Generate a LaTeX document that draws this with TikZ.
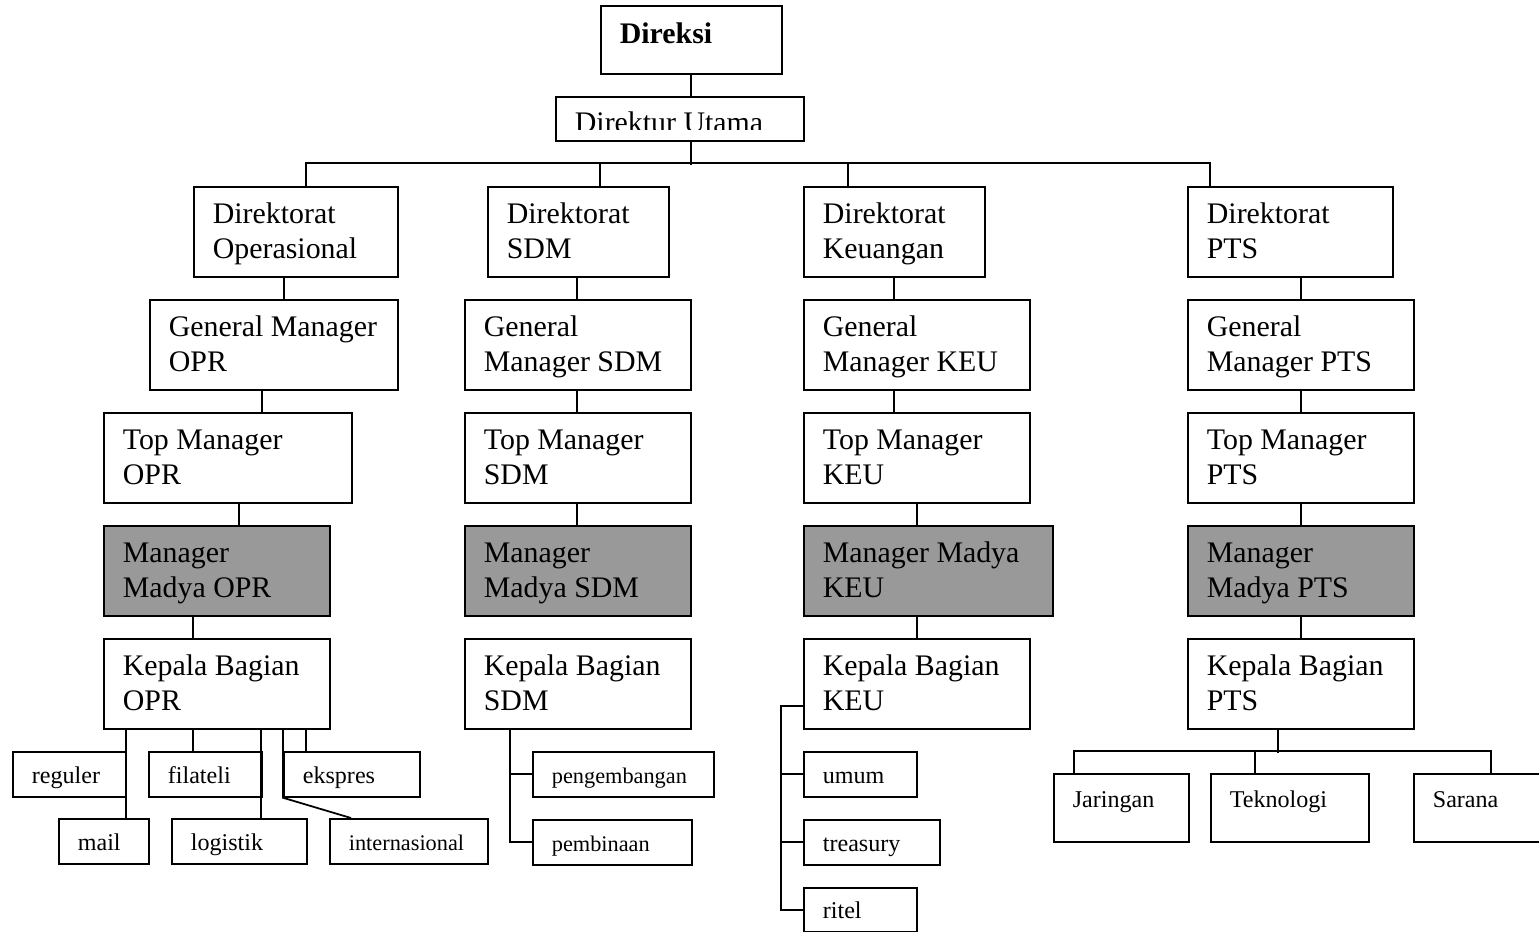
\documentclass[tikz,border=0pt]{standalone}
\usepackage{fontspec}
\setmainfont{Liberation Serif}
\newcommand\besar{\fontsize{17}{19.9}\selectfont}
\newcommand\kecil{\fontsize{13.7}{16}\selectfont}
\newcommand\kecilan{\fontsize{12.7}{15}\selectfont}

\begin{document}
\begin{tikzpicture}[x=0.02cm, y=-0.02cm, line width=1pt,
            k/.style={draw, anchor=north west, align=flush left, inner xsep=0.38cm, inner ysep=0pt,
            text height=0.74cm, text depth=1.06cm, font=\besar},
            ka/.style={k, fill=black!40},
            kc/.style={draw, anchor=north west, align=flush left, inner xsep=0.38cm, inner ysep=0pt,
            text height=0.64cm, text depth=0.26cm, font=\kecil},
            kt/.style={kc, text height=0.68cm, text depth=0.68cm}]
            \useasboundingbox (0,0) rectangle (1539,932);

            \node[k, font=\besar\bfseries, text width=2.86cm,
            text height=0.76cm, text depth=0.6cm] (dir) at (600,5) {Direksi};
            \node[draw, anchor=north west, minimum width=4.96cm, minimum height=0.88cm,
            inner sep=0pt] (du) at (555,96) {};
            \begin{scope}
                \clip (du.north west) rectangle (du.east |- 0,130);
                \node[anchor=base west, inner sep=0pt, font=\besar] (dut) at (574,133) {Direktur Utama};
            \end{scope}

            \node[k, text width=3.32cm] (dop) at (193,186) {Direktorat\\Operasional};
            \node[k, text width=4.2cm] (gmop) at (149,299) {General Manager\\OPR};
            \node[k, text width=4.2cm] (tmop) at (103,412) {Top Manager\\OPR};
            \node[ka, text width=3.76cm] (mmop) at (103,525) {Manager\\Madya OPR};
            \node[k, text width=3.76cm] (kbop) at (103,638) {Kepala Bagian\\OPR};

            \node[k, text width=2.86cm] (dsdm) at (487,186) {Direktorat\\SDM};
            \node[k, text width=3.76cm] (gmsdm) at (464,299) {General\\Manager SDM};
            \node[k, text width=3.76cm] (tmsdm) at (464,412) {Top Manager\\SDM};
            \node[ka, text width=3.76cm] (mmsdm) at (464,525) {Manager\\Madya SDM};
            \node[k, text width=3.76cm] (kbsdm) at (464,638) {Kepala Bagian\\SDM};

            \node[k, text width=2.86cm] (dkeu) at (803,186) {Direktorat\\Keuangan};
            \node[k, text width=3.76cm] (gmkeu) at (803,299) {General\\Manager KEU};
            \node[k, text width=3.76cm] (tmkeu) at (803,412) {Top Manager\\KEU};
            \node[ka, text width=4.22cm] (mmkeu) at (803,525) {Manager Madya\\KEU};
            \node[k, text width=3.76cm] (kbkeu) at (803,638) {Kepala Bagian\\KEU};

            \node[k, text width=3.34cm] (dpts) at (1187,186) {Direktorat\\PTS};
            \node[k, text width=3.76cm] (gmpts) at (1187,299) {General\\Manager PTS};
            \node[k, text width=3.76cm] (tmpts) at (1187,412) {Top Manager\\PTS};
            \node[ka, text width=3.76cm] (mmpts) at (1187,525) {Manager\\Madya PTS};
            \node[k, text width=3.76cm] (kbpts) at (1187,638) {Kepala Bagian\\PTS};

            \node[kc, text width=1.5cm] (reg) at (12,751) {reguler};
            \node[kc, text width=1.04cm] (mail) at (58,818) {mail};
            \node[kc, text width=1.5cm] (fil) at (148,751) {filateli};
            \node[kc, text width=1.94cm] (lgs) at (171,818) {logistik};
            \node[kc, text width=1.96cm] (eks) at (283,751) {ekspres};
            \node[kc, font=\kecilan, text width=2.4cm] (itn) at (329,818) {internasional};

            \node[kc, font=\kecilan, text width=2.86cm] (pgb) at (532,751) {pengembangan};
            \node[kc, font=\kecilan, text width=2.42cm] (pbn) at (532,819) {pembinaan};

            \node[kc, text width=1.5cm] (umum) at (803,751) {umum};
            \node[kc, text width=1.96cm] (trs) at (803,819) {treasury};
            \node[kc, text width=1.5cm, text height=0.62cm] (rtl) at (803,887) {ritel};

            \node[kt, text width=1.94cm] (jar) at (1053,773) {Jaringan};
            \node[kt, text width=2.4cm] (tek) at (1210,773) {Teknologi};
            \node[kt, text width=2.6cm] (sar) at (1413,773) {Sarana};

            \draw[-] (dir.south) to (du.north -| dir.south);
            \draw[-] (du.south -| dir.south) to ++(0,23);
            \draw[-] (dop.north -| 306,0) -- ++(0,-23) -| (dpts.north -| 1210,0);
            \draw[-] (dsdm.north -| 600,0) to ++(0,-23);
            \draw[-] (dkeu.north -| 848,0) to ++(0,-23);

            \draw[-] (dop.south -| 284,0) to (gmop.north -| 284,0);
            \draw[-] (gmop.south -| 262,0) to (tmop.north -| 262,0);
            \draw[-] (tmop.south -| 239,0) to (mmop.north -| 239,0);
            \draw[-] (mmop.south -| 193,0) to (kbop.north -| 193,0);

            \draw[-] (dsdm.south -| 577,0) to (gmsdm.north -| 577,0);
            \draw[-] (gmsdm.south -| 577,0) to (tmsdm.north -| 577,0);
            \draw[-] (tmsdm.south -| 577,0) to (mmsdm.north -| 577,0);

            \draw[-] (dkeu.south -| 894,0) to (gmkeu.north -| 894,0);
            \draw[-] (gmkeu.south -| 894,0) to (tmkeu.north -| 894,0);
            \draw[-] (tmkeu.south -| 917,0) to (mmkeu.north -| 917,0);
            \draw[-] (mmkeu.south -| 917,0) to (kbkeu.north -| 917,0);

            \draw[-] (dpts.south -| 1301,0) to (gmpts.north -| 1301,0);
            \draw[-] (gmpts.south -| 1301,0) to (tmpts.north -| 1301,0);
            \draw[-] (tmpts.south -| 1301,0) to (mmpts.north -| 1301,0);
            \draw[-] (mmpts.south -| 1301,0) to (kbpts.north -| 1301,0);

            \draw[-] (kbop.south -| 126,0) to (mail.north -| 126,0);
            \draw[-] (kbop.south -| 193,0) to (fil.north -| 193,0);
            \draw[-] (kbop.south -| 261,0) to (lgs.north -| 261,0);
            \draw[-] (kbop.south -| 306,0) to (eks.north -| 306,0);
            \draw[-] (kbop.south -| eks.south west) -- (eks.south west) -- (itn.north -| 351,0);

            \draw[-] (kbsdm.south -| 510,0) |- (pgb.west);
            \draw[-] (kbsdm.south -| 510,0) |- (pbn.west);

            \draw[-] (kbkeu.west |- 0,706) -- ++(-22,0) |- (rtl.west);
            \draw[-] (umum.west) to ++(-22,0);
            \draw[-] (trs.west) to ++(-22,0);

            \draw[-] (kbpts.south -| 1278,0) to ++(0,23);
            \draw[-] (jar.north -| 1074,0) -- ++(0,-22) -| (sar.north -| 1491,0);
            \draw[-] (tek.north -| 1255,0) to ++(0,-22);
        \end{tikzpicture}
\end{document}
